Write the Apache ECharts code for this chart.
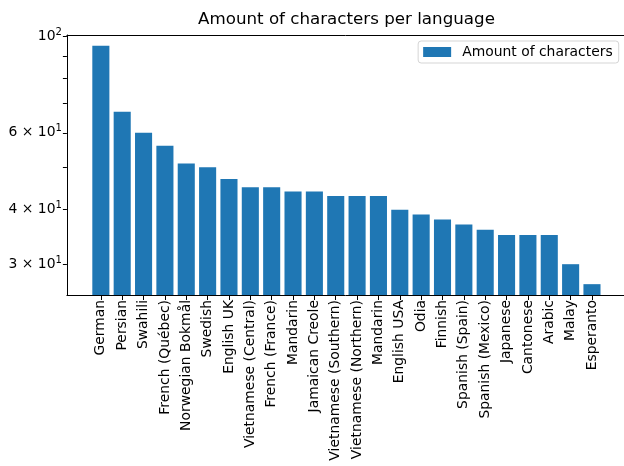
<!DOCTYPE html>
<html>
<head>
<meta charset="utf-8">
<script src="https://cdn.jsdelivr.net/npm/echarts@6/dist/echarts.min.js"></script>
<style>html,body{margin:0;padding:0;background:#fff}#c{width:624px;height:466px}</style>
</head>
<body>
<div id="c"></div>
<script>
const categories = ["German","Persian","Swahili","French (Québec)","Norwegian Bokmål","Swedish","English UK","Vietnamese (Central)","French (France)","Mandarin","Jamaican Creole","Vietnamese (Southern)","Vietnamese (Northern)","Mandarin","English USA","Odia","Finnish","Spanish (Spain)","Spanish (Mexico)","Japanese","Cantonese","Arabic","Malay","Esperanto"];
const values = [95,67,60,56,51,50,47,45,45,44,44,43,43,43,40,39,38,37,36,35,35,35,30,27];
const yTickValues = [30,40,50,60,70,80,90,100];
const yLabelValues = [30,40,60,100];
const seriesName = "Amount of characters";
const titleText = "Amount of characters per language";

const FONT = "DejaVu Sans";
const idx = categories.map((_, i) => i);
const barData = values.map((v, i) => [i, v]);
const X_MIN = -1.59, X_MAX = 24.5;

function yFmt(v) {
  const e = Math.floor(Math.log10(v) + 1e-9);
  const m = Math.round(v / Math.pow(10, e));
  if (m === 1) return '{a|10}{s|' + e + '}';
  return '{a|' + m + ' × 10}{s|' + e + '}';
}

const chart = echarts.init(document.getElementById('c'), null, {renderer: 'canvas'});
chart.setOption({
  animation: false,
  backgroundColor: '#fff',
  title: {
    text: titleText,
    left: 198, top: 11, padding: 0,
    textStyle: {fontFamily: FONT, fontSize: 16.7, fontWeight: 'normal', color: '#000'}
  },
  legend: {
    right: 5.3, top: 41,
    data: [seriesName],
    icon: 'rect', itemWidth: 28, itemHeight: 10,
    padding: [4, 6, 4, 5],
    borderColor: '#d5d5d5', borderWidth: 1, borderRadius: 3,
    backgroundColor: 'rgba(255,255,255,0.8)',
    textStyle: {fontFamily: FONT, fontSize: 13.9, color: '#000', padding: [0, 0, 0, 6]}
  },
  grid: {
    left: 66.9, right: 0, top: 35, bottom: 171, show: false
  },
  xAxis: [{
    type: 'value',
    min: X_MIN, max: X_MAX,
    splitLine: {show: false},
    axisLine: {show: true, onZero: false, lineStyle: {color: '#000', width: 1}},
    axisTick: {show: true, customValues: idx, length: 5, lineStyle: {color: '#000'}},
    axisLabel: {
      customValues: idx, rotate: 90, margin: 5,
      fontFamily: FONT, fontSize: 13.9, color: '#000',
      formatter: v => categories[Math.round(v)]
    }
  }, {
    type: 'value', position: 'top',
    min: X_MIN, max: X_MAX,
    splitLine: {show: false},
    axisLine: {show: true, onZero: false, lineStyle: {color: '#000', width: 1}},
    axisTick: {show: false},
    axisLabel: {show: false}
  }],
  yAxis: {
    type: 'log', logBase: 10,
    min: 25.5, max: 100.5,
    splitLine: {show: false},
    minorTick: {show: false},
    axisLine: {show: true, onZero: false, lineStyle: {color: '#000', width: 1}},
    axisTick: {show: true, customValues: yTickValues, length: 4, lineStyle: {color: '#000'}},
    axisLabel: {
      customValues: yLabelValues, margin: 5,
      fontFamily: FONT, fontSize: 13.9, color: '#000',
      formatter: yFmt,
      rich: {
        a: {fontFamily: FONT, fontSize: 13.9, color: '#000', lineHeight: 18},
        s: {fontFamily: FONT, fontSize: 10, color: '#000', lineHeight: 18, verticalAlign: 'top', padding: [0, 0, 6, 0]}
      }
    }
  },
  series: [{
    name: seriesName,
    type: 'bar',
    xAxisIndex: 0,
    data: barData,
    barWidth: '80%',
    clip: true,
    itemStyle: {color: '#1f77b4'}
  }]
});
</script>
</body>
</html>
